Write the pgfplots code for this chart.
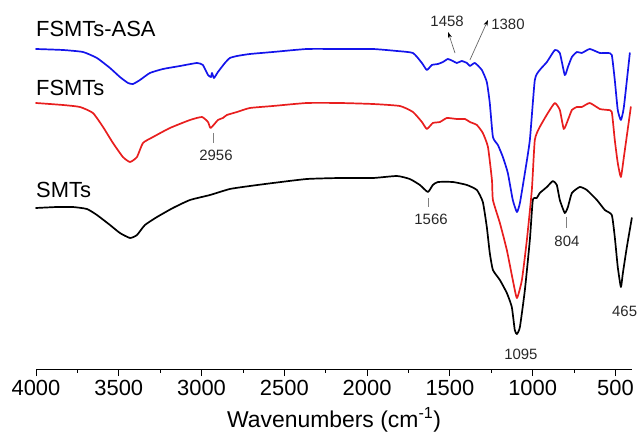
\documentclass[border=0pt]{standalone}
\usepackage{pgfplots}
\pgfplotsset{compat=1.18}
\usepackage{fontspec}
\setmainfont{Liberation Sans}
\usetikzlibrary{calc,arrows.meta}
\definecolor{cblue}{RGB}{20,20,235}
\definecolor{cred}{RGB}{232,30,30}
\definecolor{anno}{RGB}{40,40,40}
\begin{document}
\begin{tikzpicture}
\begin{axis}[
  scale only axis, width=596bp, height=369bp,
  xmin=400, xmax=4000, ymin=-369, ymax=0, x dir=reverse,
  axis x line*=bottom, axis y line=none,
  xtick={500,1000,...,4000}, minor x tick num=1,
  tick align=outside, major tick length=7bp, minor tick length=3.5bp,
  every tick/.style={black, line width=0.8bp},
  axis line style={line width=0.8bp},
  /pgf/number format/assume math mode=true,
  /pgf/number format/1000 sep={},
  xticklabel style={font=\fontsize{22}{22}\selectfont, inner sep=0pt, anchor=north, yshift=-4bp},
  xlabel={Wavenumbers (cm\textsuperscript{-1})},
  xlabel style={font=\fontsize{23}{23}\selectfont, at={(axis cs:2200,-369)}, anchor=center, yshift=-51bp},
  clip=false,
  every axis plot/.append style={smooth, tension=0.3, line join=round, line cap=round},
]
% FSMTs-ASA
\addplot[cblue, line width=1.7bp] coordinates {
(4000,-49) (3837,-50) (3716,-52) (3632,-58) (3553,-68) (3493,-77) (3444,-83) (3414,-84)
(3372,-80) (3312,-73) (3233,-69) (3130,-66) (3028,-63) (2992,-65) (2961,-75) (2943,-77)
(2937,-73) (2925,-78) (2901,-72) (2859,-63) (2829,-58) (2786,-56) (2708,-54) (2569,-52)
(2364,-49) (2164,-49) (1965,-49) (1820,-51) (1723,-53) (1669,-63) (1639,-70) (1609,-65)
(1572,-64) (1542,-62) (1512,-59) (1482,-61) (1458,-63) (1428,-61) (1397,-63) (1379,-66)
(1349,-63) (1307,-70) (1277,-82) (1259,-103) (1240,-137) (1210,-145) (1180,-157)
(1150,-173) (1120,-200) (1095,-212) (1077,-203) (1047,-173) (1017,-140) (987,-80)
(957,-70) (914,-62) (866,-50) (836,-53) (806,-75) (787,-67) (763,-57) (733,-52)
(703,-53) (655,-49) (594,-53) (546,-53) (522,-55) (504,-80) (486,-110) (467,-120)
(449,-107) (413,-53)
};
% FSMTs
\addplot[cred, line width=1.7bp] coordinates {
(4000,-103) (3837,-105) (3734,-107) (3656,-113) (3595,-127) (3535,-143) (3475,-157)
(3432,-162) (3390,-157) (3354,-143) (3293,-137) (3191,-128) (3070,-120) (2998,-117)
(2961,-122) (2945,-128) (2901,-120) (2871,-118) (2847,-115) (2786,-112) (2708,-108)
(2569,-106) (2364,-103) (2164,-103) (1965,-104) (1802,-106) (1723,-112) (1669,-122)
(1639,-129) (1603,-123) (1560,-122) (1518,-118) (1458,-119) (1409,-119) (1379,-122)
(1337,-125) (1301,-133) (1270,-147) (1246,-180) (1240,-200) (1198,-223) (1156,-250)
(1120,-280) (1095,-298) (1065,-280) (1035,-240) (1005,-190) (987,-140) (957,-127)
(908,-113) (866,-103) (836,-110) (812,-129) (787,-120) (763,-110) (733,-107)
(703,-107) (655,-103) (594,-109) (546,-110) (522,-112) (504,-140) (486,-163)
(467,-177) (449,-157) (407,-107)
};
% SMTs
\addplot[black, line width=1.7bp] coordinates {
(4000,-208) (3873,-207) (3777,-207) (3692,-209) (3632,-215) (3553,-225) (3493,-233)
(3432,-238) (3390,-235) (3342,-225) (3269,-217) (3173,-208) (3070,-200) (2949,-195)
(2829,-189) (2708,-186) (2569,-183) (2364,-179) (2164,-178) (1965,-178) (1820,-176)
(1742,-179) (1681,-185) (1633,-192) (1603,-185) (1572,-182) (1482,-182) (1397,-185)
(1337,-190) (1301,-202) (1277,-227) (1259,-253) (1240,-270) (1198,-280) (1156,-293)
(1126,-307) (1108,-330) (1095,-334) (1077,-327) (1047,-290) (1017,-240) (999,-200)
(975,-198) (957,-193) (914,-187) (878,-181) (854,-185) (836,-200) (806,-213)
(787,-207) (763,-193) (715,-187) (673,-190) (612,-200) (564,-210) (522,-215)
(504,-237) (486,-267) (467,-287) (455,-273) (431,-247) (401,-218)
};
% curve labels
\node[anchor=west, inner sep=0pt, font=\fontsize{22}{22}\selectfont] at (axis cs:4000,-29) {FSMTs-ASA};
\node[anchor=west, inner sep=0pt, font=\fontsize{22}{22}\selectfont] at (axis cs:4000,-87.5) {FSMTs};
\node[anchor=west, inner sep=0pt, font=\fontsize{22}{22}\selectfont] at (axis cs:4000,-190) {SMTs};
% peak annotations
\draw[gray, line width=0.6bp] (axis cs:2931,-133) -- (axis cs:2931,-143);
\node[anno, inner sep=0pt, font=\fontsize{15}{15}\selectfont] at (axis cs:2913,-155) {2956};
\draw[gray, line width=0.6bp] (axis cs:1632,-198) -- (axis cs:1632,-207);
\node[anno, inner sep=0pt, font=\fontsize{15}{15}\selectfont] at (axis cs:1614,-219) {1566};
\draw[gray, line width=0.6bp] (axis cs:799,-217) -- (axis cs:799,-228);
\node[anno, inner sep=0pt, font=\fontsize{15}{15}\selectfont] at (axis cs:793,-241) {804};
\node[anno, anchor=west, inner sep=0pt, font=\fontsize{15}{15}\selectfont] at (axis cs:521,-311) {465};
\node[anno, inner sep=0pt, font=\fontsize{15}{15}\selectfont] at (axis cs:1071,-354) {1095};
\node[anno, inner sep=0pt, font=\fontsize{15}{15}\selectfont] at (axis cs:1517,-21) {1458};
\node[anno, inner sep=0pt, font=\fontsize{15}{15}\selectfont] at (axis cs:1149,-24) {1380};
\draw[gray!80!black, line width=0.7bp, -{Stealth[length=6bp,width=4bp,black]}] (axis cs:1469,-53) -- (axis cs:1511,-32);
\draw[gray!80!black, line width=0.7bp, -{Stealth[length=6bp,width=4bp,black]}] (axis cs:1379,-60) -- (axis cs:1270,-20);
\coordinate (bl) at (axis cs:4000,-369);
\coordinate (tr) at (axis cs:400,0);
\end{axis}
\pgfresetboundingbox
\path ($(bl)+(-36bp,-64bp)$) rectangle ($(tr)+(7bp,0bp)$);
\end{tikzpicture}
\end{document}
